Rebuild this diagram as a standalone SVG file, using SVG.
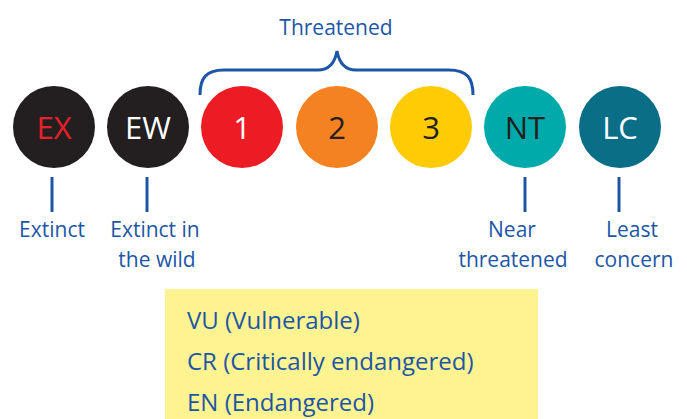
<svg xmlns="http://www.w3.org/2000/svg" width="687" height="419" viewBox="0 0 687 419">
<style>
  text { font-family: "Open Sans", "Noto Sans", sans-serif; }
  .lbl { fill: #1d56a5; font-size: 21px; text-anchor: middle; }
  .cir { font-size: 31px; text-anchor: middle; }
  .box { fill: #1d56a5; font-size: 24px; }
  .conn { stroke: #1d56a5; stroke-width: 3; fill: none; }
</style>
<rect width="687" height="419" fill="#ffffff"/>
<g id="threatened-label">
  <text class="lbl" x="336" y="35">Threatened</text>
</g>
<g id="connectors">
  <path class="conn" d="M200,95 C200,78 206,70 224,70 L318,70 C330,70 335,62 337,51 C339,62 344,70 356,70 L449,70 C467,70 473,78 473,95"/>
  <line class="conn" x1="52" y1="177" x2="52" y2="212"/>
  <line class="conn" x1="147" y1="177" x2="147" y2="212"/>
  <line class="conn" x1="525" y1="177" x2="525" y2="212"/>
  <line class="conn" x1="619" y1="177" x2="619" y2="212"/>
</g>
<g id="EX">
  <circle cx="54" cy="127" r="41" fill="#231f20"/>
  <text class="cir" x="54" y="139" fill="#e8202a">EX</text>
  <text class="lbl" x="52" y="237">Extinct</text>
</g>
<g id="EW">
  <circle cx="148" cy="127" r="41" fill="#231f20"/>
  <text class="cir" x="148" y="139" fill="#ffffff">EW</text>
  <text class="lbl" x="155" y="237">Extinct in</text>
  <text class="lbl" x="157" y="267">the wild</text>
</g>
<g id="c1">
  <circle cx="242" cy="127" r="41" fill="#ed1c24"/>
  <text class="cir" x="242" y="139" fill="#ffffff">1</text>
</g>
<g id="c2">
  <circle cx="337" cy="127" r="41" fill="#f58220"/>
  <text class="cir" x="337" y="139" fill="#231f20">2</text>
</g>
<g id="c3">
  <circle cx="431" cy="127" r="41" fill="#ffcb05"/>
  <text class="cir" x="431" y="139" fill="#231f20">3</text>
</g>
<g id="NT">
  <circle cx="525" cy="127" r="41" fill="#00aaab"/>
  <text class="cir" x="525" y="139" fill="#231f20">NT</text>
  <text class="lbl" x="512" y="237">Near</text>
  <text class="lbl" x="513" y="267">threatened</text>
</g>
<g id="LC">
  <circle cx="620" cy="127" r="41" fill="#0a6e87"/>
  <text class="cir" x="620" y="139" fill="#ffffff">LC</text>
  <text class="lbl" x="632" y="237">Least</text>
  <text class="lbl" x="634" y="267">concern</text>
</g>
<g id="legend">
  <rect x="165" y="289" width="373" height="130" fill="#fdf391"/>
  <text class="box" x="187" y="329">VU (Vulnerable)</text>
  <text class="box" x="187" y="370">CR (Critically endangered)</text>
  <text class="box" x="187" y="411">EN (Endangered)</text>
</g>
</svg>
